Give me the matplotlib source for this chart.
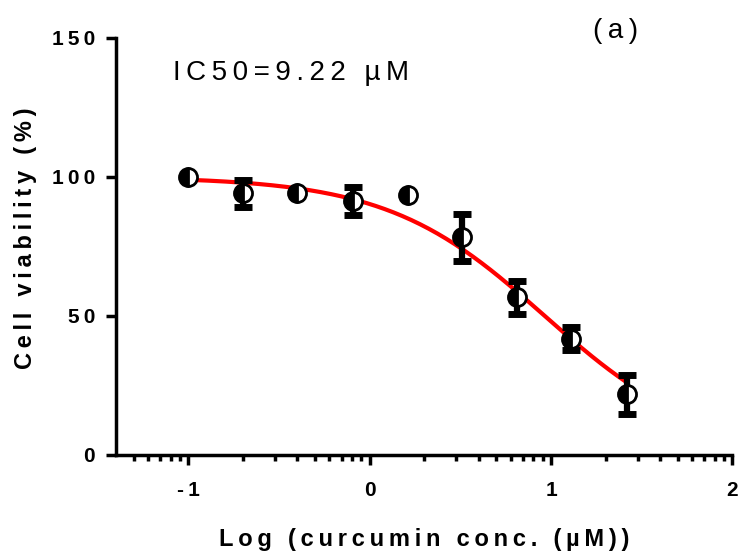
import numpy as np
import matplotlib
matplotlib.use("Agg")
import matplotlib.pyplot as plt
from matplotlib.ticker import FixedLocator

plt.rcParams['font.family'] = ['Liberation Sans', 'DejaVu Sans']

# log10 of curcumin concentration (uM) and mean viability with SD
log_conc = [-1.0, -0.7, -0.4, -0.09, 0.21, 0.51, 0.81, 1.11, 1.42]
viability = [100.0, 94.0, 94.0, 91.3, 93.3, 78.2, 56.6, 41.8, 21.8]
sd = [0.0, 4.8, 0.0, 4.9, 0.0, 8.6, 6.1, 4.1, 7.0]

# four-parameter logistic fit
fit_top = 100.0
fit_bottom = 0.0
ic50 = 9.22
hill = 1.0


def spread(s):
    # wide letter spacing like the original software output
    return "\u2009".join(s)


fig = plt.figure(figsize=(7.42, 5.56), dpi=100)
ax = fig.add_axes([0.156, 0.182, 0.831, 0.750])

xf = np.linspace(log_conc[0], log_conc[-1], 200)
yf = fit_bottom + (fit_top - fit_bottom) / (1 + 10 ** ((xf - np.log10(ic50)) * hill))
ax.plot(xf, yf, color='#ff0000', lw=3, zorder=2)

# only points with a nonzero SD get error bars
has_err = [i for i, e in enumerate(sd) if e > 0]
ax.errorbar([log_conc[i] for i in has_err], [viability[i] for i in has_err],
            yerr=[sd[i] for i in has_err], fmt='none', ecolor='black',
            elinewidth=4.5, capsize=6.5, capthick=5, zorder=3)
ax.plot(log_conc, viability, 'o', ms=13, fillstyle='left',
        markerfacecolor='black', markerfacecoloralt='white',
        markeredgecolor='black', markeredgewidth=2, zorder=4)

ax.set_xlim(-1.4, 2)
ax.set_ylim(0, 150)

for s in ['top', 'right']:
    ax.spines[s].set_visible(False)
for s in ['left', 'bottom']:
    ax.spines[s].set_linewidth(2.5)

ax.set_yticks([0, 50, 100, 150])
ax.set_yticklabels([spread(str(v)) for v in [0, 50, 100, 150]])
ax.set_xticks([-1, 0, 1, 2])
ax.set_xticklabels([spread(t) for t in ['-1', '0', '1', '2']])
minor = [d + np.log10(k) for d in range(-2, 2) for k in range(2, 10)]
minor = [m for m in minor if -1.39 < m < 2]
ax.xaxis.set_minor_locator(FixedLocator(minor))

ax.tick_params(axis='both', which='major', direction='out', length=7,
               width=2.5, labelsize=15)
ax.tick_params(axis='y', which='major', pad=8)
ax.tick_params(axis='x', which='major', pad=12)
ax.tick_params(axis='x', which='minor', direction='out', length=4.5, width=2.5)
for lab in ax.get_xticklabels() + ax.get_yticklabels():
    lab.set_fontweight('bold')

ax.set_xlabel(spread("Log (curcumin conc. (µM))"), fontsize=17,
              fontweight='bold', labelpad=20)
ax.set_ylabel(spread("Cell viability (%)"), fontsize=17,
              fontweight='bold')
ax.yaxis.set_label_coords(-0.128, 0.52)

fig.text(0.233, 0.868, spread("IC50=9.22 µM"), fontsize=20,
         ha='left', va='center')
fig.text(0.799, 0.944, spread("(a)"), fontsize=20, ha='left', va='center')

fig.savefig("out.png", dpi=100)
